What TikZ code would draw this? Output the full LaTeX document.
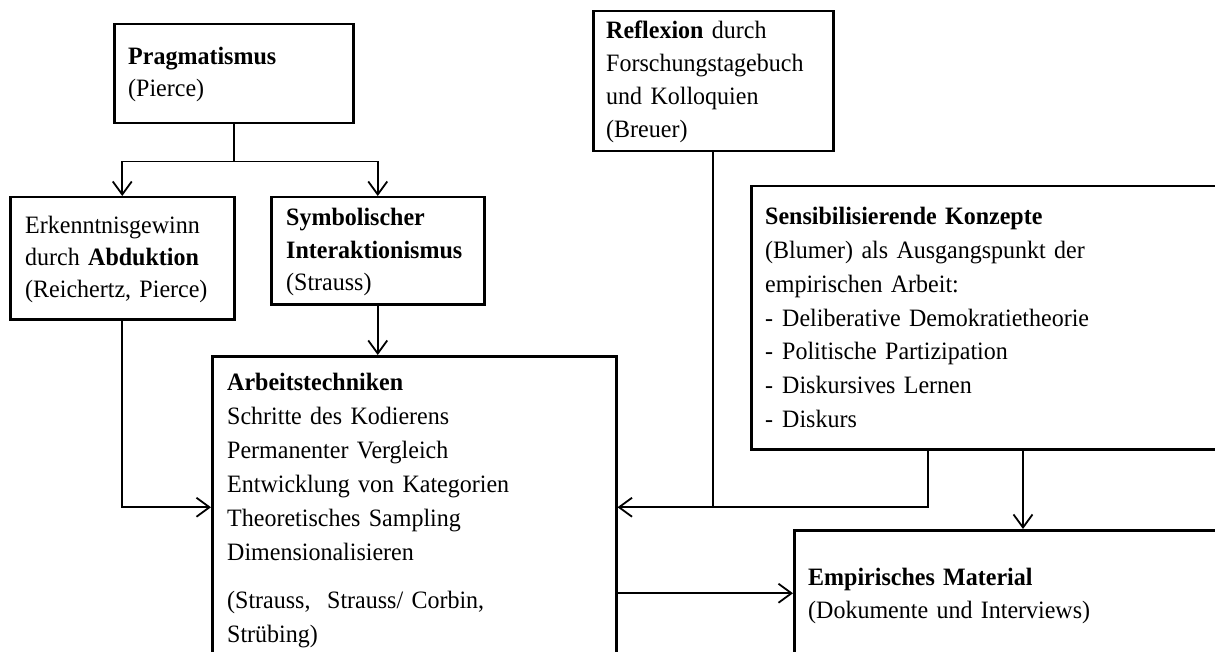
\documentclass[tikz,border=0pt]{standalone}
\usepackage{fontspec}
\setmainfont{Liberation Serif}[FakeStretch=0.96, WordSpace=0.85]
\usetikzlibrary{arrows.meta,calc}

\tikzset{
  box/.style={draw, line width=2.5pt, inner sep=0pt, anchor=north west},
  txt/.style={anchor=base west, inner sep=0pt, text width=440pt, align=left,
              font=\fontsize{25}{#1}\selectfont},
  txt/.default=33,
  link/.style={line width=1.8pt},
  arrow/.style={link, -{Straight Barb[length=13pt,width=19pt,line width=1.8pt]}}
}

\newcommand{\dashitem}[1]{\makebox[17pt][l]{-}#1}

\begin{document}
\begin{tikzpicture}[x=1pt, y=-1pt]
  \useasboundingbox (0,0) rectangle (1215,652);
  \fill[white] (0,0) rectangle (1215,652);
  \clip (0,0) rectangle (1215,652);

  % frames
  \node[box, minimum width=239pt, minimum height=99pt]  (prag) at (113,23)  {};
  \node[box, minimum width=224pt, minimum height=122pt] (erk)  at (9,196)   {};
  \node[box, minimum width=213pt, minimum height=107pt] (sym)  at (270,196) {};
  \node[box, minimum width=240pt, minimum height=140pt] (refl) at (592,10)  {};
  \node[box, minimum width=480pt, minimum height=263pt] (sens) at (750,185) {};
  \node[box, minimum width=404pt, minimum height=302pt] (arb)  at (211,355) {};
  \node[box, minimum width=440pt, minimum height=126pt] (emp)  at (793,529) {};

  % texts
  \node[txt=32] (pragtext) at (128,64.5)
    {\textbf{Pragmatismus}\\(Pierce)};
  \node[txt=32] (erktext) at (25,234)
    {Erkenntnisgewinn\\durch \textbf{Abduktion}\\(Reichertz, Pierce)};
  \node[txt=32.5] (symtext) at (286,226)
    {\textbf{Symbolischer}\\\textbf{Interaktionismus}\\(Strauss)};
  \node[txt=33] (refltext) at (606,39)
    {\textbf{Reflexion} durch\\Forschungstagebuch\\und Kolloquien\\(Breuer)};
  \node[txt=33.7] (senstext) at (765,225)
    {\textbf{Sensibilisierende Konzepte}\\(Blumer) als Ausgangspunkt der\\empirischen Arbeit:\\
     \dashitem{Deliberative Demokratietheorie}\\\dashitem{Politische Partizipation}\\
     \dashitem{Diskursives Lernen}\\\dashitem{Diskurs}};
  \node[txt=34] (arbtext) at (227,390)
    {\textbf{Arbeitstechniken}\\Schritte des Kodierens\\Permanenter Vergleich\\
     Entwicklung von Kategorien\\Theoretisches Sampling\\Dimensionalisieren\\[14pt]
     (Strauss,\ \ Strauss/ Corbin,\\Strübing)};
  \node[txt=33] (emptext) at (808,585)
    {\textbf{Empirisches Material}\\(Dokumente und Interviews)};

  % connectors
  \coordinate (split) at ($(prag.south)+(0,37)$);
  \draw[link] (prag.south) -- (split);
  \draw[arrow] (split) -| (erk.north);
  \draw[arrow] (split) -| (sym.north);
  \draw[arrow] (erk.south) |- (arb.west);
  \draw[arrow] (sym.south) -- (sym.south |- arb.north);
  \coordinate (sensleft)  at ($(sens.south west)+(178,0)$);
  \coordinate (sensright) at ($(sens.south west)+(273,0)$);
  \draw[link] (sensleft) |- (refl.south |- arb.east);
  \draw[arrow] (refl.south) |- (arb.east);
  \draw[arrow] (sensright) -- (sensright |- emp.north);
  \draw[arrow] (arb.east |- emp.west) -- (emp.west);
\end{tikzpicture}
\end{document}
